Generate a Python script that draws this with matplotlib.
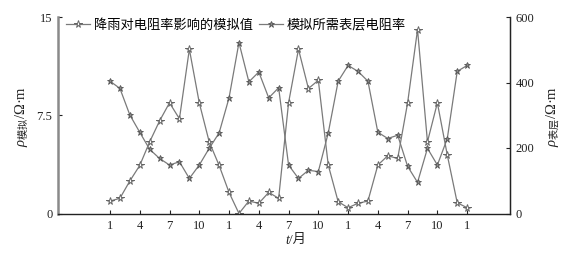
import matplotlib
matplotlib.use("Agg")
import matplotlib.pyplot as plt
import numpy as np

plt.rcParams['font.family'] = ['Liberation Serif', 'Noto Sans CJK SC', 'DejaVu Sans']
plt.rcParams['mathtext.fontset'] = 'custom'
plt.rcParams['mathtext.rm'] = 'Noto Sans CJK SC'
plt.rcParams['mathtext.it'] = 'Liberation Serif:italic'

# data
months = list(range(37))
tick_idx = list(range(0, 37, 3))
tick_labels = ['1', '4', '7', '10'] * 3 + ['1']
rain_sim = [0.95, 1.16, 2.48, 3.67, 5.47, 7.07, 8.45, 7.23, 12.54, 8.45, 5.47, 3.67,
            1.61, 0.0, 0.95, 0.78, 1.61, 1.16, 8.45, 12.54, 9.54, 10.17, 3.70, 0.9,
            0.44, 0.78, 0.95, 3.70, 4.41, 4.2, 8.45, 14.04, 5.47, 8.45, 4.46, 0.82, 0.44]
surface_rho = [404, 382, 301, 248, 196, 168, 148, 158, 107, 148, 199, 246, 353, 522,
               402, 432, 353, 384, 148, 107, 132, 128, 246, 404, 452, 434, 404, 248,
               229, 239, 144, 95, 199, 148, 229, 434, 452]
name1 = '降雨对电阻率影响的模拟值'
name2 = '模拟所需表层电阻率'

fig = plt.figure(figsize=(5.76, 2.54), dpi=100)
ax = fig.add_axes([58/576, 1-213.5/254, (510-58)/576, (213.5-17)/254])
ax2 = ax.twinx()

col = '#7a7a7a'
l1, = ax.plot(months, rain_sim, color=col, lw=0.9, marker='*', ms=5.5,
              mfc='white', mec='#666666', mew=0.7, label=name1)
l2, = ax2.plot(months, surface_rho, color=col, lw=0.9, marker='*', ms=4.5,
               mfc='#888888', mec='#555555', mew=0.6, label=name2)

ax.set_xlim(-5.24, 40.32)
ax.set_ylim(0, 15)
ax2.set_ylim(0, 600)
ax.set_yticks([0, 7.5, 15])
ax.set_yticklabels(['0', '7.5', '15'])
ax2.set_yticks([0, 200, 400, 600])
ax.set_xticks(tick_idx)
ax.set_xticklabels(tick_labels)

for a in (ax, ax2):
    a.spines['top'].set_visible(False)
ax.spines['left'].set_color('#8a8a8a')
ax.spines['left'].set_linewidth(1.8)
ax.spines['bottom'].set_color('#222222')
ax.spines['bottom'].set_linewidth(1.0)
ax2.spines['left'].set_visible(False)
ax2.spines['bottom'].set_visible(False)
ax2.spines['right'].set_color('#222222')
ax2.spines['right'].set_linewidth(1.0)

ax.tick_params(axis='both', direction='in', length=3, width=0.8, labelsize=9, colors='#222222', pad=4)
ax.tick_params(axis='x', pad=5)
ax2.tick_params(axis='y', direction='in', length=3, width=0.8, labelsize=9, colors='#222222', pad=4)

fig.text(22/576, 1-116/254, r'$\mathit{ρ}_{\mathrm{模拟}}$/Ω·m', rotation=90,
         ha='center', va='center', fontsize=10.5, color='#222222')
fig.text(553/576, 1-116/254, r'$\mathit{ρ}_{\mathrm{表层}}$/Ω·m', rotation=90,
         ha='center', va='center', fontsize=10.5, color='#222222')
fig.text(289/576, 1-240/254, 't', ha='right', va='center', style='italic',
         fontsize=10, color='#222222', family=['Liberation Serif'])
fig.text(289/576, 1-240/254, '/月', ha='left', va='center',
         fontsize=9.5, color='#222222', family=['Liberation Serif', 'Noto Sans CJK SC'])

fig.legend(handles=[l1, l2], loc='center left', bbox_to_anchor=(66/576, 1-25/254),
           bbox_transform=fig.transFigure, ncol=2, frameon=False,
           handlelength=1.8, handletextpad=0.3, columnspacing=0.5,
           borderpad=0, borderaxespad=0, prop={'family': ['Noto Sans CJK SC'], 'size': 9.5})

fig.savefig('out.png', dpi=100)
